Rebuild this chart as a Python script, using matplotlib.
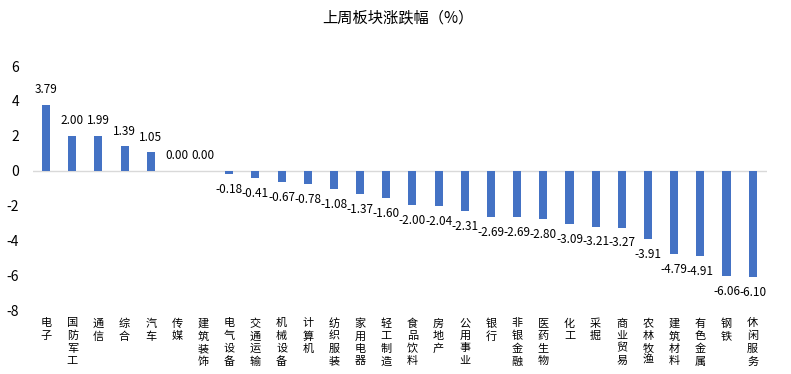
import matplotlib
matplotlib.use("Agg")
from matplotlib import pyplot as plt

plt.rcParams['font.family'] = ['Noto Sans CJK SC', 'DejaVu Sans']
plt.rcParams['axes.unicode_minus'] = False

sectors = ["电子", "国防军工", "通信", "综合", "汽车", "传媒", "建筑装饰",
           "电气设备", "交通运输", "机械设备", "计算机", "纺织服装", "家用电器",
           "轻工制造", "食品饮料", "房地产", "公用事业", "银行", "非银金融",
           "医药生物", "化工", "采掘", "商业贸易", "农林牧渔", "建筑材料",
           "有色金属", "钢铁", "休闲服务"]
changes = [3.79, 2.00, 1.99, 1.39, 1.05, 0.00, 0.00, -0.18, -0.41, -0.67,
           -0.78, -1.08, -1.37, -1.60, -2.00, -2.04, -2.31, -2.69, -2.69,
           -2.80, -3.09, -3.21, -3.27, -3.91, -4.79, -4.91, -6.06, -6.10]
yticks = [-8, -6, -4, -2, 0, 2, 4, 6]

fig = plt.figure(figsize=(7.91, 3.74), dpi=100)
ax = fig.add_axes([0.0417, 0.171, 0.928, 0.6525])

x = list(range(len(sectors)))
ax.bar(x, changes, width=0.31, color='#4472C4', zorder=2)
ax.axhline(0, color='#D9D9D9', linewidth=1, zorder=1)

# data labels above / below each bar
for xi, v in zip(x, changes):
    dy = 11 if v >= 0 else -11
    ax.annotate(f"{v:.2f}", (xi, v), xytext=(0, dy), textcoords='offset points',
                ha='center', va='center', fontsize=8.5, color='#000000')

ax.set_xlim(-0.5, 27.55)
ax.set_ylim(-8, 6)
ax.set_yticks(yticks)
ax.set_yticklabels([str(t) for t in yticks], fontsize=10)
ax.set_xticks(x)
ax.set_xticklabels(["\n".join(s) for s in sectors], fontsize=8,
                   linespacing=1.3, va='top')

for side in ['top', 'right', 'left', 'bottom']:
    ax.spines[side].set_visible(False)
ax.tick_params(axis='both', length=0)
ax.tick_params(axis='x', pad=6)
ax.tick_params(axis='y', pad=10)

fig.text(0.503, 1 - 18 / 374, "上周板块涨跌幅（%）", ha='center', va='center',
         fontsize=11)

fig.savefig("out.png", dpi=100)
